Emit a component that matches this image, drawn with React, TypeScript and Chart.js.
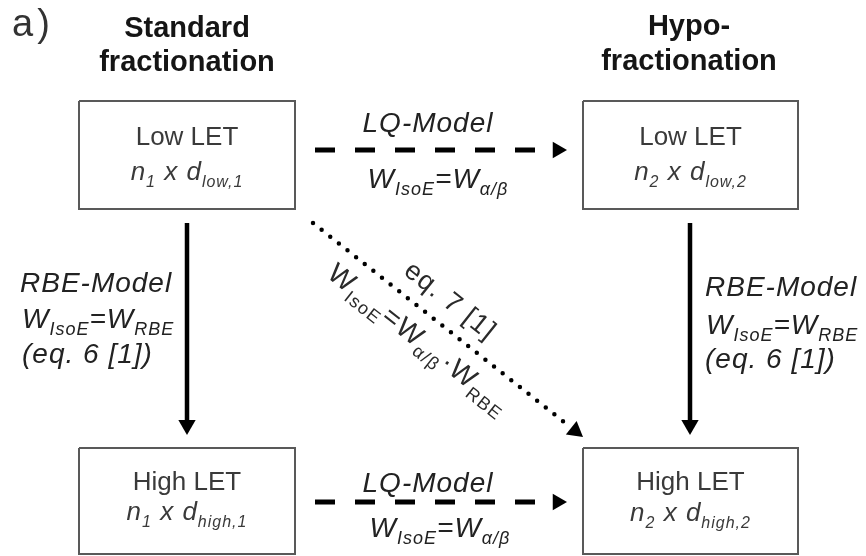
import React, { useEffect, useRef } from 'react';
import { Chart, registerables } from 'chart.js';

Chart.register(...registerables);

const CW = 866;
const CH = 556;

// ---------- content (text) ----------
const panelLabel = 'a)';
const columnTitles = [
  ['Standard', 'fractionation'],
  ['Hypo-', 'fractionation'],
];
const boxTitles = ['Low LET', 'Low LET', 'High LET', 'High LET'];
const boxFormulas = ['n_{1} x d_{low,1}', 'n_{2} x d_{low,2}', 'n_{1} x d_{high,1}', 'n_{2} x d_{high,2}'];
const lqLabels = ['LQ-Model', 'W_{IsoE}=W_{α/β}'];
const rbeLabels = ['RBE-Model', 'W_{IsoE}=W_{RBE}', '(eq. 6 [1])'];
const diagLabels = ['eq. 7 [1]', 'W_{IsoE}=W_{α/β}·W_{RBE}'];
const edgeKinds = ['dashed', 'dashed', 'solid', 'solid', 'dotted'];

// ---------- layout (diagram units = scale values) ----------
const BOXES = [
  [79, 295, 101, 209],
  [583, 798, 101, 209],
  [79, 295, 448, 554],
  [583, 798, 448, 554],
];
const EDGES = [
  { from: [315, 150], to: [567, 150], head: 9.5 },
  { from: [315, 502], to: [567, 502], head: 9.5 },
  { from: [187, 223], to: [187, 435], head: 10 },
  { from: [690, 223], to: [690, 435], head: 10 },
  { from: [313, 223], to: [583, 437], head: 10 },
];
const COL_X = [187, 689];
const TITLE_Y = [[37, 71], [35, 70]];
const BOX_TEXT_Y = [[145, 180], [145, 180], [490, 520], [490, 521]];
const LQ_POS = [
  [[428, 132], [438, 188]],
  [[428, 492], [440, 537]],
];
const RBE_POS = [
  [[20, 292], [22, 328], [22, 363]],
  [[705, 296], [706, 334], [705, 368]],
];

const FONT = '"Liberation Sans", Arial, Helvetica, sans-serif';

type Lbl = {
  text: string;
  x: number;
  y: number;
  size: number;
  sub?: number;
  bold?: boolean;
  italic?: boolean;
  color: string;
  align: 'left' | 'center';
  rot?: number;
  spacing?: number;
};

function parseRich(s: string) {
  const out: { t: string; sub: boolean }[] = [];
  const re = /_\{([^}]*)\}/g;
  let last = 0;
  let m: RegExpExecArray | null;
  while ((m = re.exec(s))) {
    if (m.index > last) out.push({ t: s.slice(last, m.index), sub: false });
    out.push({ t: m[1], sub: true });
    last = re.lastIndex;
  }
  if (last < s.length) out.push({ t: s.slice(last), sub: false });
  return out;
}

function buildLabels(): Lbl[] {
  const L: Lbl[] = [];
  L.push({ text: panelLabel, x: 12, y: 36, size: 38, color: '#333', align: 'left', spacing: 4 });
  columnTitles.forEach((lines, c) =>
    lines.forEach((t, i) =>
      L.push({ text: t, x: COL_X[c], y: TITLE_Y[c][i], size: 29, bold: true, color: '#151515', align: 'center' })
    )
  );
  BOXES.forEach((b, i) => {
    const cx = (b[0] + b[1]) / 2;
    L.push({ text: boxTitles[i], x: cx, y: BOX_TEXT_Y[i][0], size: 26, color: '#3a3a3a', align: 'center' });
    L.push({ text: boxFormulas[i], x: cx, y: BOX_TEXT_Y[i][1], size: 26, sub: 16, italic: true, color: '#3a3a3a', align: 'center', spacing: 1 });
  });
  LQ_POS.forEach((pos) =>
    lqLabels.forEach((t, i) =>
      L.push({ text: t, x: pos[i][0], y: pos[i][1], size: 28, sub: 18, italic: true, color: '#222', align: 'center', spacing: 1 })
    )
  );
  RBE_POS.forEach((pos) =>
    rbeLabels.forEach((t, i) =>
      L.push({ text: t, x: pos[i][0], y: pos[i][1], size: 28, sub: 18, italic: true, color: '#222', align: 'left', spacing: 1 })
    )
  );
  // diagonal labels placed along the dotted edge
  const d = EDGES[4];
  const dx = d.to[0] - d.from[0];
  const dy = d.to[1] - d.from[1];
  const len = Math.hypot(dx, dy);
  const ux = dx / len;
  const uy = dy / len;
  const nx = uy;
  const ny = -ux;
  const ang = (Math.atan2(dy, dx) * 180) / Math.PI;
  const place = [
    [156, 16],
    [155, -34],
  ];
  diagLabels.forEach((t, i) => {
    const [tt, pp] = place[i];
    L.push({
      text: t,
      x: d.from[0] + ux * tt + nx * pp,
      y: d.from[1] + uy * tt + ny * pp,
      size: i === 0 ? 27 : 28,
      sub: 18,
      color: '#2a2a2a',
      align: 'center',
      rot: ang,
      spacing: 1.3,
    });
  });
  return L;
}

function drawRich(ctx: CanvasRenderingContext2D, l: Lbl, px: number, py: number) {
  const segs = parseRich(l.text);
  const subSize = l.sub ?? Math.round(l.size * 0.62);
  const fontOf = (sz: number) => `${l.italic ? 'italic ' : ''}${l.bold ? 'bold ' : ''}${sz}px ${FONT}`;
  const anyCtx = ctx as any;
  ctx.save();
  if ('letterSpacing' in anyCtx) anyCtx.letterSpacing = `${l.spacing ?? 0}px`;
  const widths = segs.map((s) => {
    ctx.font = fontOf(s.sub ? subSize : l.size);
    return ctx.measureText(s.t).width;
  });
  const total = widths.reduce((a, b) => a + b, 0);
  let sx = l.align === 'center' ? -total / 2 : 0;
  ctx.translate(px, py);
  if (l.rot) ctx.rotate((l.rot * Math.PI) / 180);
  ctx.fillStyle = l.color;
  ctx.textAlign = 'left';
  ctx.textBaseline = 'alphabetic';
  segs.forEach((s, i) => {
    ctx.font = fontOf(s.sub ? subSize : l.size);
    ctx.fillText(s.t, sx, s.sub ? l.size * 0.26 : 0);
    sx += widths[i];
  });
  ctx.restore();
}

const labelPlugin = {
  id: 'diagramLabels',
  afterDatasetsDraw(chart: any) {
    const ctx: CanvasRenderingContext2D = chart.ctx;
    const xs = chart.scales.x;
    const ys = chart.scales.y;
    buildLabels().forEach((l) => drawRich(ctx, l, xs.getPixelForValue(l.x), ys.getPixelForValue(l.y)));
  },
};

function buildDatasets() {
  const ds: any[] = [];
  BOXES.forEach((b) => {
    ds.push({
      type: 'line',
      data: [
        { x: b[0], y: b[2] },
        { x: b[1], y: b[2] },
        { x: b[1], y: b[3] },
        { x: b[0], y: b[3] },
        { x: b[0], y: b[2] },
      ],
      borderColor: '#595959',
      borderWidth: 2,
      pointRadius: 0,
      fill: false,
      tension: 0,
      borderJoinStyle: 'miter',
      clip: false,
    });
  });
  const heads: { x: number; y: number; r: number; rot: number }[] = [];
  EDGES.forEach((e, i) => {
    const kind = edgeKinds[i];
    const dx = e.to[0] - e.from[0];
    const dy = e.to[1] - e.from[1];
    const len = Math.hypot(dx, dy);
    const ux = dx / len;
    const uy = dy / len;
    const cx = e.to[0] - ux * e.head;
    const cy = e.to[1] - uy * e.head;
    const endBack = kind === 'solid' ? e.head : e.head * 1.5;
    const end = { x: e.to[0] - ux * endBack, y: e.to[1] - uy * endBack };
    ds.push({
      type: 'line',
      data: [{ x: e.from[0], y: e.from[1] }, end],
      borderColor: '#000',
      borderWidth: kind === 'dotted' ? 4.5 : kind === 'dashed' ? 5 : 4.5,
      borderDash: kind === 'dashed' ? [20, 20] : kind === 'dotted' ? [0, 11] : [],
      borderCapStyle: kind === 'dotted' ? 'round' : 'butt',
      pointRadius: 0,
      fill: false,
      tension: 0,
    });
    heads.push({ x: cx, y: cy, r: e.head, rot: 90 + (Math.atan2(dy, dx) * 180) / Math.PI });
  });
  ds.push({
    type: 'scatter',
    data: heads.map((h) => ({ x: h.x, y: h.y })),
    pointStyle: 'triangle',
    pointRadius: (c: any) => heads[c.dataIndex]?.r ?? 0,
    pointRotation: (c: any) => heads[c.dataIndex]?.rot ?? 0,
    pointBackgroundColor: '#000',
    pointBorderWidth: 0,
    pointBorderColor: '#000',
  });
  return ds;
}

export default function App() {
  const ref = useRef<HTMLCanvasElement | null>(null);
  useEffect(() => {
    if (!ref.current) return;
    const chart = new Chart(ref.current, {
      type: 'scatter',
      data: { datasets: buildDatasets() },
      options: {
        animation: false,
        responsive: false,
        maintainAspectRatio: false,
        events: [],
        layout: { padding: 0, autoPadding: false },
        plugins: {
          legend: { display: false },
          tooltip: { enabled: false },
          title: { display: false },
        },
        scales: {
          x: { type: 'linear', min: 0, max: CW, display: false },
          y: { type: 'linear', min: 0, max: CH, reverse: true, display: false },
        },
      } as any,
      plugins: [labelPlugin],
    });
    return () => chart.destroy();
  }, []);
  return (
    <div style={{ position: 'fixed', left: 0, top: 0, width: CW, height: CH, background: '#fff' }}>
      <canvas ref={ref} width={CW} height={CH} style={{ width: CW, height: CH, display: 'block' }} />
    </div>
  );
}
